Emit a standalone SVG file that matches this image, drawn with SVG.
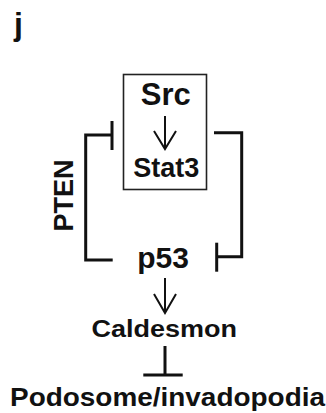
<svg xmlns="http://www.w3.org/2000/svg" width="326" height="413" viewBox="0 0 326 413">
<style>
text{font-family:"Liberation Sans",Arial,sans-serif;font-weight:bold;fill:#111}
.c{stroke:#111;stroke-width:3;fill:none}
.a{stroke:#111;stroke-width:2;fill:none}
</style>
<rect width="326" height="413" fill="#fff"/>
<text x="14" y="35" font-size="32">j</text>
<g id="box">
<rect x="123.5" y="74.5" width="83" height="115" fill="none" stroke="#222" stroke-width="1.6"/>
</g>
<g id="src"><text x="165.8" y="105.3" font-size="31" text-anchor="middle">Src</text></g>
<g id="stat3"><text x="166.3" y="176.7" font-size="27" text-anchor="middle">Stat3</text></g>
<g id="pten"><text transform="translate(73.3,195.5) rotate(-90)" font-size="27" text-anchor="middle">PTEN</text></g>
<g id="p53"><text x="163" y="267.5" font-size="30" text-anchor="middle">p53</text></g>
<g id="caldesmon"><text x="91.5" y="336.5" font-size="23" textLength="145.5" lengthAdjust="spacingAndGlyphs">Caldesmon</text></g>
<g id="podosome"><text x="10" y="405.5" font-size="25" textLength="315" lengthAdjust="spacingAndGlyphs">Podosome/invadopodia</text></g>
<g id="connectors">
<path class="a" d="M165 116V149M154 131L165 149L176 131"/>
<path class="c" d="M112 135H85.7V260H112.7"/>
<path class="c" d="M112 121V150"/>
<path class="c" d="M214 132.7H241.7V256.7H216.7"/>
<path class="c" d="M216.7 242.7V271.7"/>
<path class="a" d="M165 278V313M154 294L165 313L176 294"/>
<path class="c" d="M165 346V375M143.3 375H182.7"/>
</g>
</svg>
